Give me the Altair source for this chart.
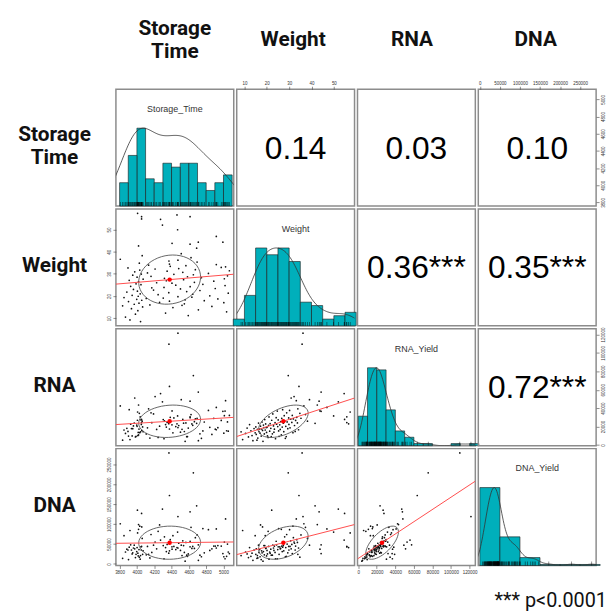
import altair as alt
import numpy as np
import pandas as pd

# ---- data (one entry per sample) ----
storage_time = [4042, 3920, 3868, 4593, 3983, 4331, 5036, 4011, 4710, 3937, 4416, 4066, 4866, 3835, 4521,
                4150, 3969, 4548, 4024, 5004, 4262, 3903, 4376, 4778, 4056, 4557, 3998, 4935, 4108, 4304,
                3851, 4635, 4474, 4015, 4842, 3945, 4245, 4645, 4038, 5055, 4368, 3884, 4575, 4006, 4728,
                4192, 3960, 4503, 4905, 4172, 4313, 4615, 3928, 5018, 4449, 4047, 4762, 3990, 4405, 4228,
                4664, 4019, 4888, 4340, 3911, 4539, 4072, 5010, 4318, 4745, 4002, 4584, 4163, 5046, 3952,
                4652, 4427, 4051, 4826, 4122, 4530, 3975, 4349, 5068, 4033, 4675, 4210, 4483, 3897, 4974,
                5024, 4385, 4566, 4135, 4917, 4376, 4028, 4370, 4474, 4695, 3808, 4625, 4061, 4512, 4406,
                4709, 4614, 4690, 4993, 4019, 4470, 4917, 4054, 4295, 4008, 4054, 4273, 4463, 4614]
weight = [8.5, 9.2, 10.5, 11.2, 11.8, 12.3, 12.9, 13.4, 13.8, 14.3, 14.8, 15.1, 15.3, 15.6, 15.8,
          16.0, 16.3, 16.5, 16.8, 17.0, 17.2, 17.5, 17.7, 17.9, 18.1, 18.3, 18.5, 18.7, 18.9, 19.1,
          19.3, 19.5, 19.7, 19.9, 20.1, 20.3, 20.6, 20.8, 21.0, 21.3, 21.5, 21.8, 22.0, 22.2, 22.5,
          22.7, 23.0, 23.2, 23.4, 23.7, 23.9, 24.2, 24.4, 24.7, 24.9, 25.1, 25.3, 25.5, 25.8, 26.0,
          26.2, 26.5, 26.7, 26.9, 27.1, 27.4, 27.6, 27.8, 28.0, 28.3, 28.5, 28.7, 28.9, 29.1, 29.4,
          29.6, 29.8, 29.9, 30.2, 30.4, 30.7, 30.9, 31.2, 31.4, 31.7, 31.9, 32.2, 32.4, 32.7, 32.9,
          33.2, 33.4, 33.7, 33.9, 34.2, 34.4, 34.8, 35.8, 36.2, 35.3, 36.6, 37.3, 38.2, 39.1, 43.8,
          44.3, 43.4, 41.6, 44.3, 42.6, 49.9, 46.9, 54.8, 52.0, 57.3, 55.8, 54.6, 56.6, 55.8]
rna_yield_k = [14.2, 5.8, 12.5, 18.3, 8.7, 22.1, 15.4, 10.2, 4.6, 17.8, 13.1, 19.5, 11.4, 5.1, 16.9,
               7.5, 23.7, 14.6, 17.2, 12.8, 20.4, 9.6, 17.3, 24.9, 15.7, 3.9, 21.6, 18.8, 11.9, 27.5,
               16.2, 22.8, 18.9, 13.6, 19.1, 9.8, 8.2, 21.3, 30.4, 14.9, 23.1, 18.0, 8.9, 26.8, 12.1,
               33.7, 20.7, 13.9, 17.1, 24.2, 6.8, 29.6, 22.5, 36.8, 19.9, 27.2, 15.2, 9.4, 21.9, 16.8,
               25.3, 10.9, 28.9, 19.4, 38.3, 23.6, 14.4, 31.8, 26.1, 7.2, 20.2, 9.1, 34.9, 25.0, 17.6,
               75.4, 29.3, 22.3, 37.5, 18.6, 27.9, 51.0, 24.5, 32.1, 13.3, 28.2, 52.6, 21.1, 14.7, 26.6,
               48.1, 30.0, 23.9, 39.2, 16.5, 63.6, 34.3, 109.5, 121.5, 29.0, 42.4, 33.0, 25.8, 49.2, 37.0,
               57.5, 47.6, 23.5, 36.5, 43.4, 31.5, 40.8, 27.7, 46.9, 35.8, 24.3, 55.8, 22.9, 30.6]
dna_yield_k = [21, 84, 30, 25, 16, 41, 19, 27, 9, 35, 71, 24, 38, 14, 21,
               15, 47, 29, 36, 18, 98, 11, 33, 28, 93, 7, 31, 46, 23, 46,
               71, 39, 40, 20, 34, 25, 82, 44, 12, 30, 27, 37, 22, 135, 22,
               47, 40, 34, 45, 29, 13, 57, 48, 13, 36, 43, 89, 24, 43, 38,
               39, 87, 45, 31, 42, 46, 33, 55, 68, 18, 41, 19, 74, 50, 28,
               229, 44, 35, 86, 44, 58, 38, 49, 26, 95, 66, 55, 52, 35, 45,
               113, 61, 54, 24, 40, 172, 17, 279, 119, 73, 101, 92, 64, 47, 37,
               48, 131, 146, 26, 99, 80, 88, 127, 138, 78, 44, 60, 41, 43]

var_names = ["Storage_Time", "Weight", "RNA_Yield", "DNA_Yield"]
row_labels = ["Storage\nTime", "Weight", "RNA", "DNA"]
tick_values = {
    "Storage_Time": [3800, 4000, 4200, 4400, 4600, 4800, 5000],
    "Weight": [10, 20, 30, 40, 50],
    "RNA_Yield": [0, 20000, 40000, 60000, 80000, 100000, 120000],
    "DNA_Yield": [0, 50000, 100000, 150000, 200000, 250000],
}
bin_steps = {"Storage_Time": 100, "Weight": 5, "RNA_Yield": 10000, "DNA_Yield": 50000}
bin_anchors = {"Storage_Time": 3800, "Weight": 5, "RNA_Yield": 0, "DNA_Yield": 0}
corr_labels = {(0, 1): "0.14", (0, 2): "0.03", (0, 3): "0.10",
               (1, 2): "0.36***", (1, 3): "0.35***", (2, 3): "0.72***"}
footnote = "*** p<0.0001"

df = pd.DataFrame({
    "Storage_Time": storage_time,
    "Weight": weight,
    "RNA_Yield": np.array(rna_yield_k) * 1000.0,
    "DNA_Yield": np.array(dna_yield_k) * 1000.0,
})

W, H = 119, 118
LABEL_W = 105
HEADER_H = 75
FOOT_H = 34
HIST_COLOR = "#00AFBB"
LINE_H = 23
HEADER_DX = [0, -2.5, -4.5, -1.5]


def dom(v):
    lo, hi = float(df[v].min()), float(df[v].max())
    pad = 0.04 * (hi - lo)
    return [lo - pad, hi + pad]


def sc(v):
    return alt.Scale(domain=dom(v), nice=False, zero=False)


def axis_for(v, orient):
    if orient is None:
        return None
    vertical = orient in ("left", "right")
    return alt.Axis(orient=orient, values=tick_values[v], format="d", title=None,
                    domain=False, grid=False, tickSize=3, tickColor="#444444", tickWidth=0.6,
                    labelFontSize=4.5, labelColor="#333333", labelPadding=1,
                    labelAngle=270 if vertical else 0, labelOverlap=False, labelFlush=False)


base = alt.Chart(df)


def diag_panel(v):
    x = df[v].to_numpy()
    n = len(x)
    iqr = float(np.percentile(x, 75) - np.percentile(x, 25))
    bw = float(1.2 * 1.06 * min(float(np.std(x, ddof=1)), iqr / 1.34) * n ** (-0.2))
    hsc = alt.Scale(domain=[0, 1.5], nice=False, zero=False)
    step, anchor = bin_steps[v], bin_anchors[v]
    hist = base.transform_calculate(
        b0=f"floor((datum['{v}'] - {anchor}) / {step}) * {step} + {anchor}"
    ).transform_aggregate(cnt="count()", groupby=["b0"]) \
        .transform_joinaggregate(mx="max(cnt)") \
        .transform_calculate(h="datum.cnt / datum.mx", b1=f"datum.b0 + {step}", zero="0") \
        .mark_rect(fill=HIST_COLOR, stroke="#1a1a1a", strokeWidth=0.6) \
        .encode(x=alt.X("b0:Q", scale=sc(v), axis=None), x2="b1:Q",
                y=alt.Y("h:Q", scale=hsc, axis=None), y2="zero:Q")
    dens = base.transform_density(v, as_=["val", "dens"], bandwidth=bw,
                                  extent=[float(x.min() - 3 * bw), float(x.max() + 3 * bw)], steps=200) \
        .transform_joinaggregate(md="max(dens)") \
        .transform_calculate(dn="datum.dens / datum.md") \
        .mark_line(color="#333333", strokeWidth=0.8, clip=True) \
        .encode(x=alt.X("val:Q", scale=sc(v), axis=None),
                y=alt.Y("dn:Q", scale=hsc, axis=None))
    rug = base.mark_tick(color="black", thickness=0.6, size=4) \
        .encode(x=alt.X(f"{v}:Q", scale=sc(v), axis=None), y=alt.value(H - 2))
    title = alt.Chart(pd.DataFrame({"label": [v]})).mark_text(
        fontSize=9, color="#333333").encode(
        text="label:N", x=alt.value(W / 2), y=alt.value(20))
    return alt.layer(hist, dens, rug, title).properties(width=W, height=H)


def orients(i, j):
    xo = "top" if (i == 0 and j % 2 == 1) else ("bottom" if (i == 3 and j % 2 == 0) else None)
    yo = "left" if (j == 0 and i % 2 == 1) else ("right" if (j == 3 and i % 2 == 0) else None)
    return xo, yo


def upper_panel(i, j):
    vi, vj = var_names[i], var_names[j]
    xo, yo = orients(i, j)
    txt = alt.Chart(pd.DataFrame({"label": [corr_labels[(i, j)]]})).mark_text(
        font="Liberation Sans", fontSize=32, color="black").encode(
        text="label:N", x=alt.value(W / 2), y=alt.value(H / 2 + 1))
    ghost = base.mark_point(opacity=0).encode(
        x=alt.X(f"{vj}:Q", scale=sc(vj), axis=axis_for(vj, xo)),
        y=alt.Y(f"{vi}:Q", scale=sc(vi), axis=axis_for(vi, yo)))
    return alt.layer(ghost, txt).properties(width=W, height=H)


def lower_panel(i, j):
    vi, vj = var_names[i], var_names[j]
    xo, yo = orients(i, j)
    xs, ys = df[vj].to_numpy(), df[vi].to_numpy()
    xm, ym = float(xs.mean()), float(ys.mean())
    sx, sy = float(xs.std(ddof=1)), float(ys.std(ddof=1))
    r = float(np.corrcoef(xs, ys)[0, 1])
    theta = (1.0 if r >= 0 else -1.0) / np.sqrt(2)
    shape = np.diag([np.sqrt(1 + r), np.sqrt(1 - r)]) @ np.array([[theta, theta], [-theta, theta]])
    ang = np.arange(52) * 2 * np.pi / 51
    ell = np.column_stack([np.cos(ang), np.sin(ang)]) @ shape
    edf = pd.DataFrame({"ex": ell[:, 0] * sx + xm, "ey": ell[:, 1] * sy + ym,
                        "k": list(range(52))})
    X = lambda f: alt.X(f, scale=sc(vj), axis=axis_for(vj, xo))
    Y = lambda f: alt.Y(f, scale=sc(vi), axis=axis_for(vi, yo))
    pts = base.mark_circle(size=3, color="#111111", opacity=1).encode(x=X(f"{vj}:Q"), y=Y(f"{vi}:Q"))
    reg = base.transform_regression(vj, vi, extent=dom(vj)).mark_line(
        color="#ff4d4d", strokeWidth=1, clip=True).encode(x=X(f"{vj}:Q"), y=Y(f"{vi}:Q"))
    ellc = alt.Chart(edf).mark_line(color="#555555", strokeWidth=0.9, clip=True).encode(
        x=X("ex:Q"), y=Y("ey:Q"), order="k:Q")
    mean = base.mark_circle(size=20, color="#ff0000", opacity=1).encode(
        x=X(f"mean({vj}):Q"), y=Y(f"mean({vi}):Q"))
    return alt.layer(pts, ellc, reg, mean).properties(width=W, height=H)


def panel(i, j):
    if i == j:
        return diag_panel(var_names[i])
    if i < j:
        return upper_panel(i, j)
    return lower_panel(i, j)


def text_cell(label, width, height, x, y_center, size=21, weight="bold", align="center"):
    nlines = label.count("\n") + 1
    y = y_center - (nlines - 1) * LINE_H / 2
    return alt.Chart(pd.DataFrame({"label": [label]})).mark_text(
        font="Roboto", fontSize=size, fontWeight=weight, color="#111111",
        lineBreak="\n", lineHeight=LINE_H, align=align, baseline="middle").encode(
        text="label:N", x=alt.value(x), y=alt.value(y)).properties(
        width=width, height=height, view=alt.ViewBackground(stroke="transparent"))


cells = [text_cell(" ", LABEL_W, HEADER_H, LABEL_W / 2, 30)]
cells += [text_cell(row_labels[j], W, HEADER_H, W / 2 + HEADER_DX[j], 28.5) for j in range(4)]
for i in range(4):
    cells.append(text_cell(row_labels[i], LABEL_W, H, 46, H / 2 - 1))
    cells += [panel(i, j) for j in range(4)]
cells.append(text_cell(" ", LABEL_W, FOOT_H, 10, 10))
cells += [text_cell(" ", W, FOOT_H, 10, 10) for _ in range(3)]
cells.append(text_cell(footnote, W, FOOT_H, 130, 33, size=20, weight="normal", align="right"))

chart = alt.concat(*cells, columns=5, spacing=3, bounds="flush").configure_view(
    stroke="#8c8c8c", strokeWidth=1.5).properties(padding=0, background="white")

chart.save("out.html", embed_options={"renderer": "svg", "actions": False})
